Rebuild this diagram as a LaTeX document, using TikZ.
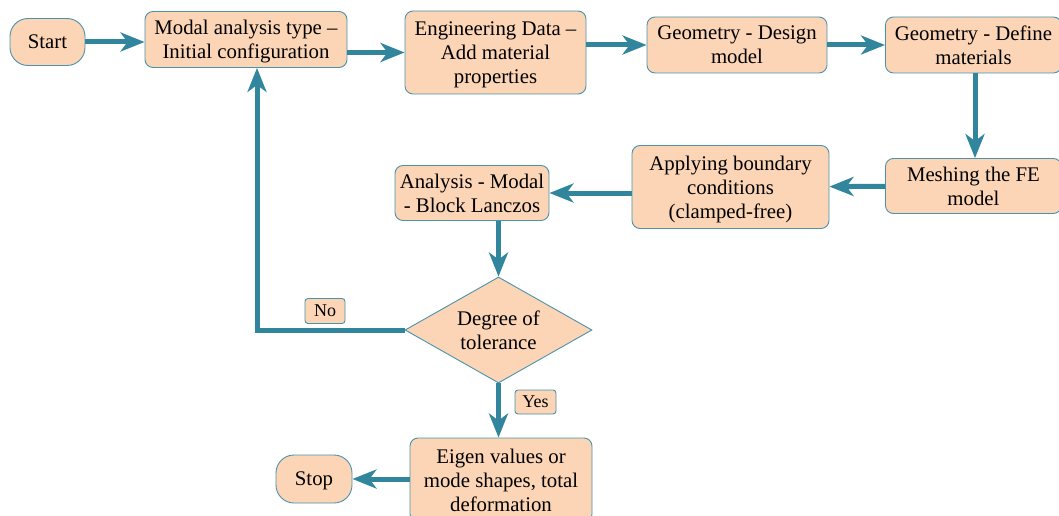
\documentclass[tikz,border=0pt]{standalone}
\usepackage{fontspec}
\setmainfont{Liberation Serif}
\usetikzlibrary{arrows.meta,shapes.geometric}
\definecolor{boxfill}{HTML}{FBD5B5}
\definecolor{boxline}{HTML}{4A93AB}
\definecolor{flowc}{HTML}{31869E}
\tikzset{
  box/.style={draw=boxline, fill=boxfill, line width=0.9pt, rounded corners=8pt, align=center, inner sep=2pt,
    text depth=0pt, font=\fontsize{20.8}{24}\selectfont},
  term/.style={box, rounded corners=18pt},
  decide/.style={box, diamond, rounded corners=0pt, aspect=1.76, inner sep=0pt},
  tag/.style={box, rounded corners=3pt, inner sep=3pt, font=\fontsize{18}{20}\selectfont},
  flow/.style={draw=flowc, line width=5pt, -{Stealth[length=24pt, width=19pt, inset=7pt]}}
}
\begin{document}
\begin{tikzpicture}[x=1pt, y=1pt]
  \useasboundingbox (0,0) rectangle (1059,-516);
  \node[term, minimum width=75pt, minimum height=47pt] (start) at (47.5,-42) {Start};
  \node[box, minimum width=202pt, minimum height=56pt] (modal) at (246,-39.5) {Modal analysis type --\\Initial configuration};
  \node[box, minimum width=181pt, minimum height=83pt] (eng) at (495.5,-52.5) {Engineering Data --\\Add material\\properties};
  \node[box, minimum width=180pt, minimum height=56pt] (design) at (737,-45) {Geometry - Design\\model};
  \node[box, minimum width=176pt, minimum height=56pt, anchor=west] (define) at (885,-45) {Geometry - Define\\materials};
  \node[box, minimum width=176pt, minimum height=55pt, anchor=west] (mesh) at (885,-186) {Meshing the FE\\model};
  \node[box, minimum width=197pt, minimum height=83pt] (apply) at (730.5,-187) {Applying boundary\\conditions\\(clamped-free)};
  \node[box, minimum width=154pt, minimum height=55pt] (analysis) at (472,-193) {Analysis - Modal\\- Block Lanczos};
  \node[decide, minimum width=187pt, minimum height=106pt] (dec) at (498.5,-330) {Degree of\\tolerance};
  \node[box, minimum width=182pt, minimum height=84pt] (eigen) at (501,-480) {Eigen values or\\mode shapes, total\\deformation};
  \node[term, minimum width=76pt, minimum height=48pt] (stop) at (314,-479) {Stop};
  \node[tag, minimum width=40pt, minimum height=25pt] (no) at (325,-311) {No};
  \node[tag, minimum width=41pt, minimum height=24pt] (yes) at (535.5,-402) {Yes};
  \coordinate (back) at (dec.west -| 257,0);

  \draw[flow] (start.east) -- (start.east -| modal.west);
  \draw[flow] (modal.east |- eng.west) -- (eng.west);
  \draw[flow] (eng.east |- design.west) -- (design.west);
  \draw[flow] (design) -- (define);
  \draw[flow] (define.south -| 975,0) -- (mesh.north -| 975,0);
  \draw[flow] (mesh) -- (apply);
  \draw[flow] (apply.west |- analysis.east) -- (analysis.east);
  \draw[flow] (analysis.south -| dec.north) -- (dec.north);
  \draw[flow] (dec.south) -- (dec.south |- eigen.north);
  \draw[flow] (dec.west) -- (back) -- (back |- modal.south);
  \draw[flow] (eigen.west |- stop.east) -- (stop.east);
\end{tikzpicture}
\end{document}
